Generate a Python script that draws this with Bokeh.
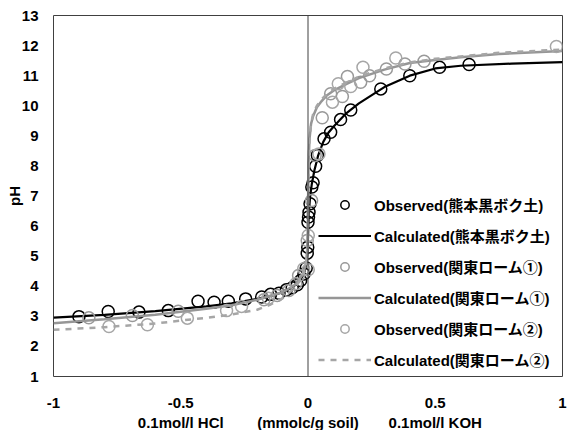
from bokeh.plotting import figure
from bokeh.models import Range1d, FixedTicker, Span, Legend, LegendItem
from bokeh.core.properties import value
from bokeh.embed import file_html
from bokeh.resources import INLINE

# ---- data ----
# Observed (熊本黒ボク土)
obs_k_x = [-0.900, -0.785, -0.664, -0.549, -0.432, -0.369, -0.313, -0.245, -0.182, -0.147,
           -0.114, -0.085, -0.062, -0.042, -0.029, -0.016, -0.007, -0.003, -0.001, 0.000,
           0.002, 0.004, 0.008, 0.015, 0.020, 0.030, 0.037, 0.063, 0.089, 0.128,
           0.168, 0.286, 0.400, 0.517, 0.633]
obs_k_y = [2.99, 3.16, 3.14, 3.19, 3.50, 3.47, 3.50, 3.58, 3.64, 3.73,
           3.77, 3.88, 3.95, 4.05, 4.19, 4.41, 4.61, 5.10, 5.30, 6.13,
           6.30, 6.46, 6.74, 7.30, 7.44, 7.99, 8.35, 8.90, 9.12, 9.54,
           9.86, 10.56, 11.00, 11.28, 11.37]
# Calculated (熊本黒ボク土)
calc_k_x = [-1.0, -0.8, -0.6, -0.4, -0.3, -0.2, -0.15, -0.1, -0.06, -0.03,
            -0.015, -0.006, -0.002, 0.0, 0.003, 0.008, 0.015, 0.025, 0.04, 0.06,
            0.08, 0.1, 0.15, 0.2, 0.3, 0.4, 0.5, 0.6, 0.8, 1.0]
calc_k_y = [2.96, 3.05, 3.17, 3.33, 3.43, 3.58, 3.67, 3.80, 3.97, 4.20,
            4.45, 4.75, 5.10, 5.60, 6.40, 6.95, 7.40, 7.85, 8.35, 8.80,
            9.10, 9.30, 9.75, 10.08, 10.62, 11.00, 11.24, 11.33, 11.40, 11.45]
# Observed (関東ローム①)
obs_1_x = [-0.861, -0.690, -0.510, -0.173, -0.121, -0.075, -0.037, -0.003, 0.014, 0.028,
           0.056, 0.089, 0.135, 0.155, 0.207, 0.242, 0.308, 0.381, 0.456]
obs_1_y = [2.95, 3.03, 3.17, 3.55, 3.69, 3.86, 4.36, 5.52, 6.85, 8.35,
           9.60, 10.40, 10.31, 10.97, 10.78, 11.00, 11.22, 11.39, 11.48]
# Calculated (関東ローム①)
calc_1_x = [-1.0, -0.8, -0.6, -0.4, -0.3, -0.2, -0.1, -0.05, -0.02, -0.008,
            -0.002, 0.0, 0.002, 0.006, 0.012, 0.02, 0.035, 0.05, 0.075, 0.1,
            0.15, 0.2, 0.25, 0.3, 0.4, 0.5, 0.6, 0.75, 1.0]
calc_1_y = [2.77, 2.90, 3.05, 3.25, 3.37, 3.55, 3.80, 4.05, 4.40, 4.75,
            5.30, 6.50, 8.10, 8.90, 9.40, 9.65, 9.95, 10.12, 10.35, 10.50,
            10.72, 10.92, 11.06, 11.20, 11.42, 11.52, 11.61, 11.72, 11.82]
# Observed (関東ローム②)
obs_2_x = [-0.782, -0.631, -0.474, -0.320, -0.261, -0.156, -0.048, -0.017, 0.001, 0.001,
           0.043, 0.096, 0.119, 0.168, 0.216, 0.345, 0.976]
obs_2_y = [2.66, 2.72, 2.94, 3.19, 3.33, 3.60, 4.08, 4.58, 4.55, 5.69,
           8.40, 10.12, 10.73, 10.64, 11.28, 11.59, 11.97]
# Calculated (関東ローム②)
calc_2_x = [-1.0, -0.8, -0.6, -0.5, -0.4, -0.3, -0.2, -0.15, -0.1, -0.05,
            -0.02, -0.008, -0.002, 0.0, 0.002, 0.006, 0.012, 0.02, 0.035, 0.05,
            0.075, 0.1, 0.15, 0.2, 0.3, 0.4, 0.5, 0.75, 1.0]
calc_2_y = [2.55, 2.64, 2.76, 2.86, 2.95, 3.06, 3.22, 3.38, 3.60, 3.95,
            4.35, 4.75, 5.30, 6.50, 8.00, 8.85, 9.40, 9.72, 10.00, 10.18,
            10.40, 10.55, 10.77, 10.97, 11.24, 11.44, 11.56, 11.76, 11.87]

x_ticks = [-1, -0.5, 0, 0.5, 1]
x_tick_labels = ["-1", "-0.5\n0.1mol/l HCl", "0\n(mmolc/g soil)", "0.5\n0.1mol/l KOH", "1"]
y_ticks = list(range(1, 14))

series_names = ["Observed(熊本黒ボク土)", "Calculated(熊本黒ボク土)",
                "Observed(関東ローム①)", "Calculated(関東ローム①)",
                "Observed(関東ローム②)", "Calculated(関東ローム②)"]

FONT = "Liberation Sans, Noto Sans CJK JP"

p = figure(frame_width=509, frame_height=361,
           min_border_left=53, min_border_right=14, min_border_top=15, min_border_bottom=54,
           x_range=Range1d(-1, 1), y_range=Range1d(1, 13),
           output_backend="svg", toolbar_location=None)
p.grid.visible = False
p.outline_line_color = "#404040"
p.outline_line_width = 1
p.background_fill_color = "white"
p.border_fill_color = "white"

for ax in (p.xaxis[0], p.yaxis[0]):
    ax.axis_line_color = None
    ax.major_tick_line_color = None
    ax.minor_tick_line_color = None
    ax.major_tick_out = 0
    ax.major_tick_in = 0
    ax.minor_tick_out = 0
    ax.minor_tick_in = 0
    ax.major_label_text_font = FONT
    ax.major_label_text_font_style = "bold"
    ax.major_label_text_font_size = "15px"
    ax.major_label_text_color = "black"

p.xaxis.ticker = FixedTicker(ticks=x_ticks)
p.xaxis.major_label_overrides = {t: l for t, l in zip(x_ticks, x_tick_labels)}
p.xaxis.major_label_standoff = 17
p.yaxis.ticker = FixedTicker(ticks=y_ticks)
p.yaxis.major_label_standoff = 15
p.yaxis.axis_label = "pH"
p.yaxis.axis_label_text_font = FONT
p.yaxis.axis_label_text_font_style = "bold"
p.yaxis.axis_label_text_font_size = "15px"
p.yaxis.axis_label_text_color = "black"
p.yaxis.axis_label_standoff = -4

p.add_layout(Span(location=0, dimension="height", line_color="#404040", line_width=1))

r_ok = p.scatter(obs_k_x, obs_k_y, marker="circle", size=12, fill_color=None,
                 line_color="black", line_width=1.5)
r_ck = p.line(calc_k_x, calc_k_y, line_color="black", line_width=2.2)
r_o1 = p.scatter(obs_1_x, obs_1_y, marker="circle", size=12, fill_color=None,
                 line_color="#999999", line_width=1.5)
r_c1 = p.line(calc_1_x, calc_1_y, line_color="#969696", line_width=2.5)
r_o2 = p.scatter(obs_2_x, obs_2_y, marker="circle", size=12, fill_color=None,
                 line_color="#A6A6A6", line_width=1.5)
r_c2 = p.line(calc_2_x, calc_2_y, line_color="#A6A6A6", line_width=2.5, line_dash="6 6")

legend = Legend(items=[LegendItem(label=n, renderers=[r]) for n, r in
                       zip(series_names, [r_ok, r_ck, r_o1, r_c1, r_o2, r_c2])],
                location=(265, 6), padding=0, margin=0, spacing=10,
                glyph_width=53, glyph_height=21, label_height=21, label_standoff=3,
                background_fill_alpha=0, border_line_alpha=0,
                label_text_font=FONT, label_text_font_style="bold",
                label_text_font_size="15px", label_text_color="black")
p.add_layout(legend, "center")

open("out.html", "w").write(file_html(p, INLINE))
